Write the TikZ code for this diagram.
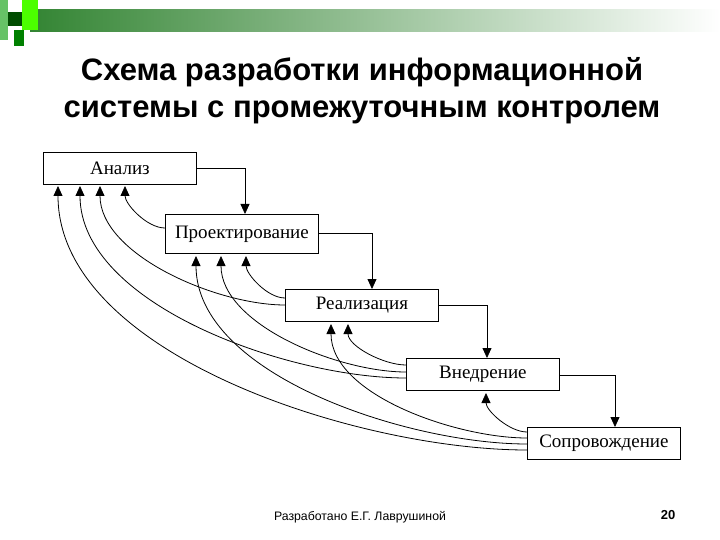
\documentclass[tikz,border=0pt]{standalone}
\usepackage{fontspec}
\setmainfont{Liberation Serif}
\newfontfamily\hsans{Liberation Sans}
\usetikzlibrary{arrows.meta}
\begin{document}
\begin{tikzpicture}[x=1pt,y=-1pt,
 box/.style={draw,thick,minimum width=153pt,minimum height=32pt,inner sep=0pt,font=\fontsize{19}{19}\selectfont,anchor=north west},
 fw/.style={thick,-{Triangle[width=9pt,length=10pt]}},
 bk/.style={thick,-{Triangle[width=9pt,length=10pt]}}]
\useasboundingbox (0,0) rectangle (720,540);
\shade[left color=green!40!black!80, right color=white] (30,10) rectangle (720,32);
\fill[green!60!black!60] (0,0) rectangle (8,40);
\fill[green!30!black] (8,12) rectangle (22,26);
\fill[green!70!yellow] (22,0) rectangle (38,12);
\fill[green!70!yellow] (22,12) rectangle (38,30);
\fill[green!50!black] (14,30) rectangle (24,46);
\node[font=\hsans\bfseries\fontsize{31}{37}\selectfont,align=center] (title) at (362,91) {Схема разработки информационной\\системы с промежуточным контролем};
\node[box] (a) at (43,152) {Анализ};
\node[box,minimum height=39pt] (p) at (165,214) {Проектирование};
\node[box] (r) at (285,289) {Реализация};
\node[box] (v) at (406,358) {Внедрение};
\node[box] (s) at (527,427) {Сопровождение};
% forward
\draw[fw] (a.east |- 0,168) -| (p.north -| 245,0);
\draw[fw] (p.east |- 0,233) -| (r.north -| 372,0);
\draw[fw] (r.east |- 0,305) -| (v.north -| 487,0);
\draw[fw] (v.east |- 0,375) -| (s.north -| 615,0);
% back coordinates
\coordinate (a1) at (58,186); \coordinate (a2) at (80,186); \coordinate (a3) at (100,186); \coordinate (a4) at (125,186);
\coordinate (p1) at (196,256); \coordinate (p2) at (221,256); \coordinate (p3) at (246,256);
\coordinate (r1) at (331,324); \coordinate (r2) at (348,324);
\coordinate (v1) at (486,393);
\coordinate (pl) at (165,228);
\coordinate (rl1) at (285,298); \coordinate (rl2) at (285,305);
\coordinate (vl1) at (406,365); \coordinate (vl2) at (406,372); \coordinate (vl3) at (406,378);
\coordinate (sl1) at (527,432); \coordinate (sl2) at (527,438); \coordinate (sl3) at (527,444); \coordinate (sl4) at (527,450);
\draw[bk] (pl) to[out=180,in=-90,looseness=0.8] (a4);
\draw[bk] (rl1) to[out=180,in=-90,looseness=0.8] (p3);
\draw[bk] (rl2) to[out=180,in=-90,looseness=0.8] (a3);
\draw[bk] (vl1) to[out=180,in=-90,looseness=0.8] (r2);
\draw[bk] (vl2) to[out=180,in=-90,looseness=0.8] (p2);
\draw[bk] (vl3) to[out=180,in=-90,looseness=0.8] (a2);
\draw[bk] (sl1) to[out=180,in=-90,looseness=0.8] (v1);
\draw[bk] (sl2) to[out=180,in=-90,looseness=0.8] (r1);
\draw[bk] (sl3) to[out=180,in=-90,looseness=0.8] (p1);
\draw[bk] (sl4) to[out=180,in=-90,looseness=0.8] (a1);
\node[font=\hsans\fontsize{12.3}{12}\selectfont] (foot) at (360,517) {Разработано Е.Г. Лаврушиной};
\node[font=\hsans\bfseries\fontsize{13}{13}\selectfont] (num) at (668,515) {20};
\end{tikzpicture}
\end{document}
